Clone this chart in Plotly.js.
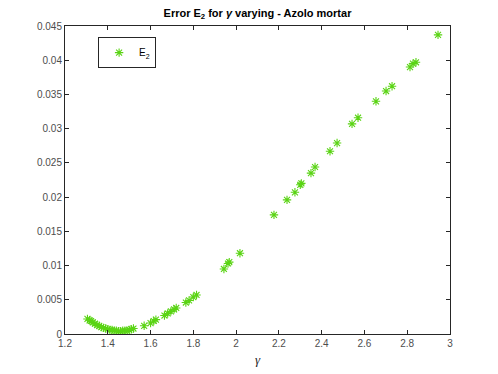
<!DOCTYPE html>
<html>
<head>
<meta charset="utf-8">
<script src="https://cdn.plot.ly/plotly-3.0.1.min.js"></script>
<style>html,body{margin:0;padding:0;background:#fff;}#chart{width:498px;height:374px;}</style>
</head>
<body>
<div id="chart"></div>
<script>
const gammaVals = [1.305,1.315,1.322,1.33,1.34,1.35,1.36,1.37,1.38,1.39,1.40,1.41,1.42,1.43,1.44,1.45,1.46,1.47,1.48,1.49,1.50,1.51,1.52,
  1.57,1.60,1.615,1.625,1.665,1.68,1.695,1.71,1.72,1.765,1.78,1.80,1.815,
  1.943,1.962,1.968,2.018,2.177,2.238,2.275,2.300,2.305,2.350,2.369,2.439,2.472,2.542,2.570,2.654,2.701,2.729,2.813,2.827,2.841,2.944];
const errorE2 = [0.0022,0.0020,0.0019,0.0017,0.0015,0.0013,0.0012,0.0010,0.0009,0.0008,0.0007,0.0006,0.0006,0.0005,0.0005,0.0004,0.0004,0.0005,0.0005,0.0005,0.0006,0.0007,0.0008,
  0.0012,0.0016,0.0019,0.0021,0.0027,0.0030,0.0033,0.0036,0.0038,0.0046,0.0049,0.0054,0.0057,
  0.0095,0.0103,0.0105,0.0118,0.0174,0.0196,0.0207,0.0218,0.0220,0.0235,0.0244,0.0267,0.0279,0.0307,0.0316,0.0340,0.0355,0.0362,0.0390,0.0395,0.0397,0.0437];
const xTicks = [1.2,1.4,1.6,1.8,2,2.2,2.4,2.6,2.8,3];
const xTickText = ['1.2','1.4','1.6','1.8','2','2.2','2.4','2.6','2.8','3'];
const yTicks = [0,0.005,0.01,0.015,0.02,0.025,0.03,0.035,0.04,0.045];
const yTickText = ['0','0.005','0.01','0.015','0.02','0.025','0.03','0.035','0.04','0.045'];

const green = 'rgb(90,212,20)';
const axisCommon = {
  showline: true, mirror: 'ticks', linecolor: '#262626', linewidth: 1,
  ticks: 'inside', ticklen: 4, tickcolor: '#262626', tickwidth: 1,
  showgrid: false, zeroline: false,
  tickfont: {family: 'Liberation Sans, Arial, sans-serif', size: 10, color: '#4d4d4d'}
};
const trace = {
  x: gammaVals, y: errorE2, type: 'scatter', mode: 'markers', name: 'E<sub>2</sub>',
  marker: {symbol: 'asterisk-open', size: 7, color: green, line: {color: green, width: 1.1}}
};
const layout = {
  width: 498, height: 374,
  margin: {l: 65, r: 48, t: 26, b: 40},
  paper_bgcolor: '#fff', plot_bgcolor: '#fff',
  title: {text: '<b>Error E<sub>2</sub> for <i>γ</i> varying - Azolo mortar</b>',
    font: {family: 'Liberation Sans, Arial, sans-serif', size: 11, color: '#000'},
    x: 0.5, xref: 'paper', xanchor: 'center', y: 0.965, yref: 'container', yanchor: 'middle'},
  xaxis: Object.assign({}, axisCommon, {range: [1.2, 3], tickvals: xTicks, ticktext: xTickText,
    title: {text: '<i>γ</i>', font: {family: 'Liberation Serif, serif', size: 13, color: '#262626'}, standoff: 6}}),
  yaxis: Object.assign({}, axisCommon, {range: [0, 0.045], tickvals: yTicks, ticktext: yTickText}),
  showlegend: true,
  legend: {x: 0.086, y: 0.964, xanchor: 'left', yanchor: 'top', bgcolor: '#fff',
    bordercolor: '#262626', borderwidth: 1,
    font: {family: 'Liberation Sans, Arial, sans-serif', size: 10, color: '#000'},
    itemwidth: 30}
};
Plotly.newPlot('chart', [trace], layout, {displayModeBar: false, staticPlot: true});
</script>
</body>
</html>
